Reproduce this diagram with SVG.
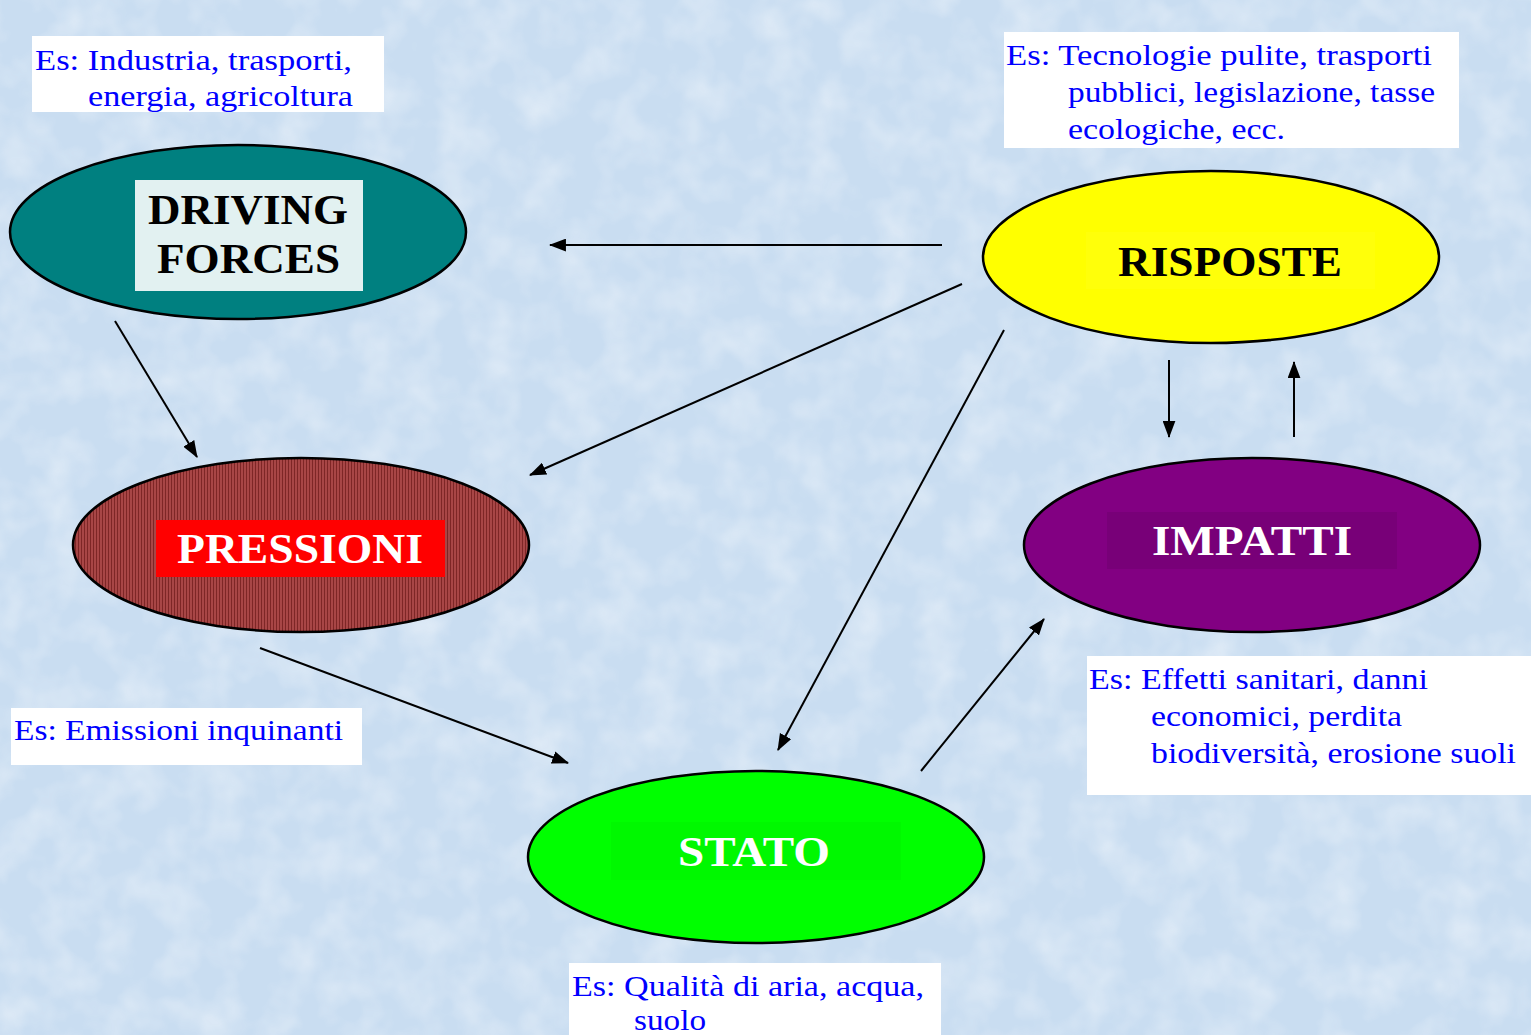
<svg xmlns="http://www.w3.org/2000/svg" width="1531" height="1035" viewBox="0 0 1531 1035">
  <style>
    .ell { stroke: #000; stroke-width: 2.5; }
    .lbl { font-family: "Liberation Serif", "Times New Roman", serif; font-weight: bold; font-size: 42px; }
    .ex { font-family: "Liberation Serif", "Times New Roman", serif; font-size: 30px; fill: #0000ff; }
    .box { fill: #ffffff; }
    .conn line { stroke: #000; stroke-width: 2; marker-end: url(#arr); }
  </style>
  <defs>
    <marker id="arr" viewBox="0 0 16 12" refX="15" refY="6" markerWidth="17" markerHeight="13" markerUnits="userSpaceOnUse" orient="auto">
      <path d="M0,0 L16,6 L0,12 Z" fill="#000"/>
    </marker>
    <pattern id="stripes" width="3" height="4" patternUnits="userSpaceOnUse">
      <rect width="3" height="4" fill="#a84646"/>
      <rect width="1" height="4" fill="#7e2626"/>
    </pattern>
    <filter id="mottle" x="0" y="0" width="100%" height="100%">
      <feTurbulence type="fractalNoise" baseFrequency="0.025" numOctaves="3" seed="4"/>
      <feColorMatrix type="matrix" values="0 0 0 0 1  0 0 0 0 1  0 0 0 0 1  0 0 0 0.9 -0.35"/>
    </filter>
    <clipPath id="clipDF"><rect x="32" y="36" width="352" height="76"/></clipPath>
  </defs>

  <rect width="1531" height="1035" fill="#c9ddf1"/>
  <rect width="1531" height="1035" filter="url(#mottle)" opacity="0.8"/>

  <g id="note-driving" clip-path="url(#clipDF)">
    <rect class="box" x="32" y="36" width="352" height="76"/>
    <text class="ex" x="35" y="70" textLength="317" lengthAdjust="spacingAndGlyphs">Es: Industria, trasporti,</text>
    <text class="ex" x="88" y="106" textLength="265" lengthAdjust="spacingAndGlyphs">energia, agricoltura</text>
  </g>

  <g id="note-risposte">
    <rect class="box" x="1004" y="32" width="455" height="116"/>
    <text class="ex" x="1006" y="65" textLength="426" lengthAdjust="spacingAndGlyphs">Es: Tecnologie pulite, trasporti</text>
    <text class="ex" x="1068" y="102" textLength="367" lengthAdjust="spacingAndGlyphs">pubblici, legislazione, tasse</text>
    <text class="ex" x="1068" y="139" textLength="217" lengthAdjust="spacingAndGlyphs">ecologiche, ecc.</text>
  </g>

  <g id="note-pressioni">
    <rect class="box" x="11" y="708" width="351" height="57"/>
    <text class="ex" x="14" y="740" textLength="329" lengthAdjust="spacingAndGlyphs">Es: Emissioni inquinanti</text>
  </g>

  <g id="note-impatti">
    <rect class="box" x="1087" y="656" width="444" height="139"/>
    <text class="ex" x="1089" y="689" textLength="339" lengthAdjust="spacingAndGlyphs">Es: Effetti sanitari, danni</text>
    <text class="ex" x="1151" y="726" textLength="251" lengthAdjust="spacingAndGlyphs">economici, perdita</text>
    <text class="ex" x="1151" y="763" textLength="365" lengthAdjust="spacingAndGlyphs">biodiversità, erosione suoli</text>
  </g>

  <g id="note-stato">
    <rect class="box" x="569" y="963" width="372" height="72"/>
    <text class="ex" x="572" y="996" textLength="352" lengthAdjust="spacingAndGlyphs">Es: Qualità di aria, acqua,</text>
    <text class="ex" x="634" y="1030" textLength="72" lengthAdjust="spacingAndGlyphs">suolo</text>
  </g>

  <g id="node-driving">
    <ellipse class="ell" cx="238" cy="232" rx="228" ry="87" fill="#008080"/>
    <rect x="135" y="180" width="228" height="111" fill="#e2f1f1"/>
    <text class="lbl" x="148" y="224" textLength="200" lengthAdjust="spacingAndGlyphs" fill="#000">DRIVING</text>
    <text class="lbl" x="157" y="273" textLength="183" lengthAdjust="spacingAndGlyphs" fill="#000">FORCES</text>
  </g>

  <g id="node-pressioni">
    <ellipse class="ell" cx="301" cy="545" rx="228" ry="87" fill="url(#stripes)"/>
    <rect x="156" y="520" width="289" height="57" fill="#ff0000"/>
    <text class="lbl" x="177" y="563" textLength="246" lengthAdjust="spacingAndGlyphs" fill="#fff">PRESSIONI</text>
  </g>

  <g id="node-risposte">
    <ellipse class="ell" cx="1211" cy="257" rx="228" ry="86" fill="#ffff00"/>
    <rect x="1086" y="232" width="289" height="57" fill="#ffff0a"/>
    <text class="lbl" x="1118" y="276" textLength="224" lengthAdjust="spacingAndGlyphs" fill="#000">RISPOSTE</text>
  </g>

  <g id="node-impatti">
    <ellipse class="ell" cx="1252" cy="545" rx="228" ry="87" fill="#820082"/>
    <rect x="1107" y="512" width="290" height="57" fill="#780078"/>
    <text class="lbl" x="1152" y="555" textLength="200" lengthAdjust="spacingAndGlyphs" fill="#fff">IMPATTI</text>
  </g>

  <g id="node-stato">
    <ellipse class="ell" cx="756" cy="857" rx="228" ry="86" fill="#00ff00"/>
    <rect x="611" y="822" width="290" height="58" fill="#00f800"/>
    <text class="lbl" x="678" y="866" textLength="152" lengthAdjust="spacingAndGlyphs" fill="#fff">STATO</text>
  </g>

  <g id="connectors" class="conn">
    <line x1="942" y1="245" x2="550" y2="245"/>
    <line x1="115" y1="321" x2="197" y2="457"/>
    <line x1="962" y1="284" x2="530" y2="475"/>
    <line x1="1004" y1="330" x2="778" y2="750"/>
    <line x1="260" y1="648" x2="568" y2="763"/>
    <line x1="921" y1="771" x2="1044" y2="619"/>
    <line x1="1169" y1="360" x2="1169" y2="437"/>
    <line x1="1294" y1="437" x2="1294" y2="362"/>
  </g>
</svg>
